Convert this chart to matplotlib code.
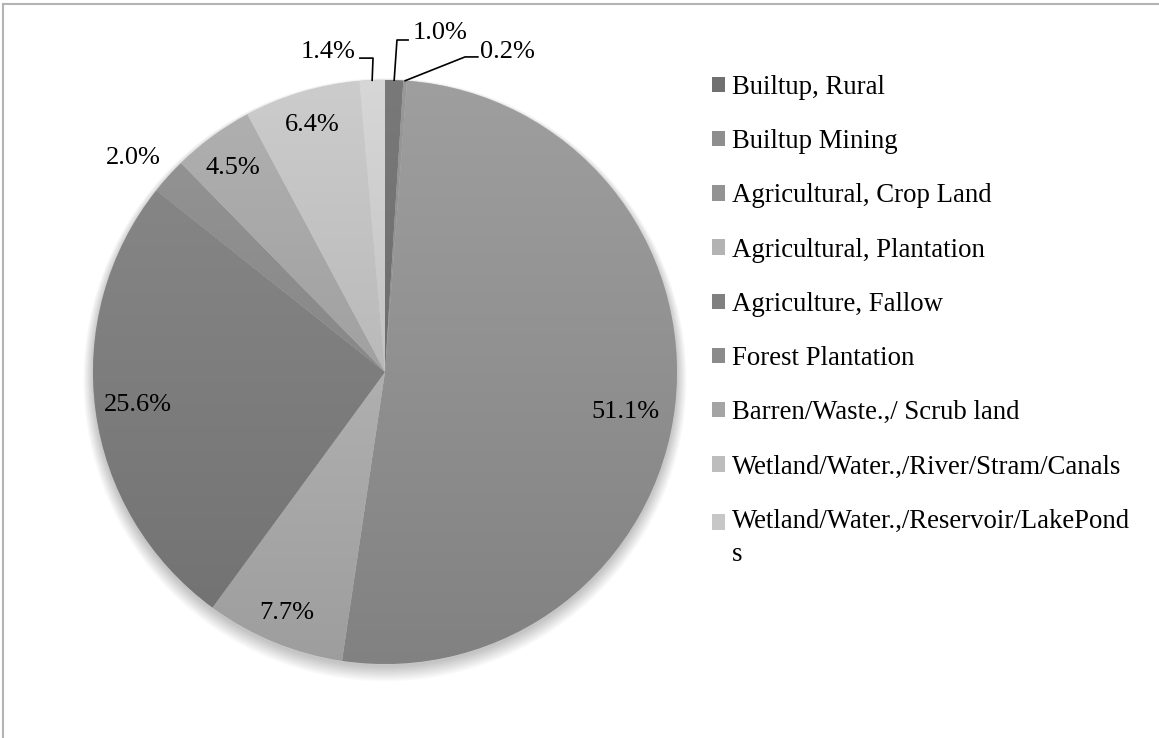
import numpy as np
import matplotlib
matplotlib.use('Agg')
import matplotlib.pyplot as plt
import matplotlib.colors as mcolors
from matplotlib.patches import Patch, Circle
from matplotlib.lines import Line2D

plt.rcParams['font.family'] = ['Liberation Serif', 'DejaVu Serif']

# Land use classes and their share (%)
categories = ['Builtup, Rural',
              'Builtup Mining',
              'Agricultural, Crop Land',
              'Agricultural, Plantation',
              'Agriculture, Fallow',
              'Forest Plantation',
              'Barren/Waste.,/ Scrub land',
              'Wetland/Water.,/River/Stram/Canals',
              'Wetland/Water.,/Reservoir/LakePond\ns']
shares = [1.0, 0.2, 51.1, 7.7, 25.6, 2.0, 4.5, 6.4, 1.4]
shades = ['#707070', '#8e8e8e', '#939393', '#b3b3b3', '#808080',
          '#8b8b8b', '#a4a4a4', '#bdbdbd', '#c7c7c7']

# where each percentage label sits (pie radius = 1)
label_pos = [(0.188, 1.161), (0.418, 1.096), (0.822, -0.137),
             (-0.336, -0.825), (-0.846, -0.113), (-0.863, 0.733),
             (-0.521, 0.699), (-0.250, 0.846), (-0.195, 1.096)]
# elbow and end of leader lines for the small outside labels
leaders = {0: [(0.041, 1.137), (0.079, 1.137)],
           1: [(0.274, 1.079), (0.318, 1.079)],
           8: [(-0.041, 1.075), (-0.086, 1.075)]}

W, H = 1159, 738
fig = plt.figure(figsize=(W / 100, H / 100), dpi=100)
cx, cy, r = 385, 372, 292
ax = fig.add_axes([(cx - r) / W, (H - cy - r) / H, 2 * r / W, 2 * r / H])

# soft shadow under the pie
for k in range(12):
    ax.add_patch(Circle((0, -0.01 - 0.0015 * k), 1.0 + 0.003 * k,
                        facecolor='black', alpha=0.02, edgecolor='none',
                        zorder=0, clip_on=False))

wedges, texts = ax.pie(shares, colors=shades, startangle=90, counterclock=False,
                       wedgeprops=dict(edgecolor='#d0d0d0', linewidth=0.4))

# vertical shading on each slice, lighter at the top
ramp = np.linspace(0, 1, 256).reshape(-1, 1)
for w, c in zip(wedges, shades):
    base = np.array(mcolors.to_rgb(c))
    top = np.clip(base * 1.08, 0, 1)
    bottom = np.clip(base * 0.88, 0, 1)
    cmap = mcolors.LinearSegmentedColormap.from_list('g', [bottom, top])
    im = ax.imshow(ramp, cmap=cmap, extent=(-1, 1, -1, 1), origin='lower',
                   aspect='auto', zorder=w.get_zorder() + 0.1)
    im.set_clip_path(w)

for v, (x, y) in zip(shares, label_pos):
    ax.text(x, y, f'{v:.1f}%', ha='center', va='center', fontsize=19, zorder=5)

for i, pts in leaders.items():
    w = wedges[i]
    mid = np.deg2rad((w.theta1 + w.theta2) / 2)
    xs = [np.cos(mid)] + [p[0] for p in pts]
    ys = [np.sin(mid)] + [p[1] for p in pts]
    ax.plot(xs, ys, color='black', linewidth=1.2, clip_on=False, zorder=5)

ax.set_xlim(-1, 1)
ax.set_ylim(-1, 1)
ax.set_aspect('equal')
ax.axis('off')

handles = [Patch(facecolor=c, edgecolor='none') for c in shades]
leg = fig.legend(handles, categories, loc='upper left',
                 bbox_to_anchor=(712 / W, 1 - 75 / H), frameon=False,
                 fontsize=19.3, handlelength=0.5, handleheight=0.5,
                 handletextpad=0.25, labelspacing=1.09, borderpad=0, borderaxespad=0)
for t in leg.get_texts():
    t.set_linespacing(1.45)
# keep the last (wrapped) entry's square level with its first line
last = leg.legend_handles[-1]
last.set_y(last.get_y() + 11.5)

# chart area border (top and left)
fig.add_artist(Line2D([3 / W, 3 / W], [0, 1 - 4 / H], color='#b4b4b4', linewidth=1.5))
fig.add_artist(Line2D([3 / W, 1], [1 - 4 / H, 1 - 4 / H], color='#b4b4b4', linewidth=1.5))

fig.savefig('out.png', dpi=100, facecolor='white')
